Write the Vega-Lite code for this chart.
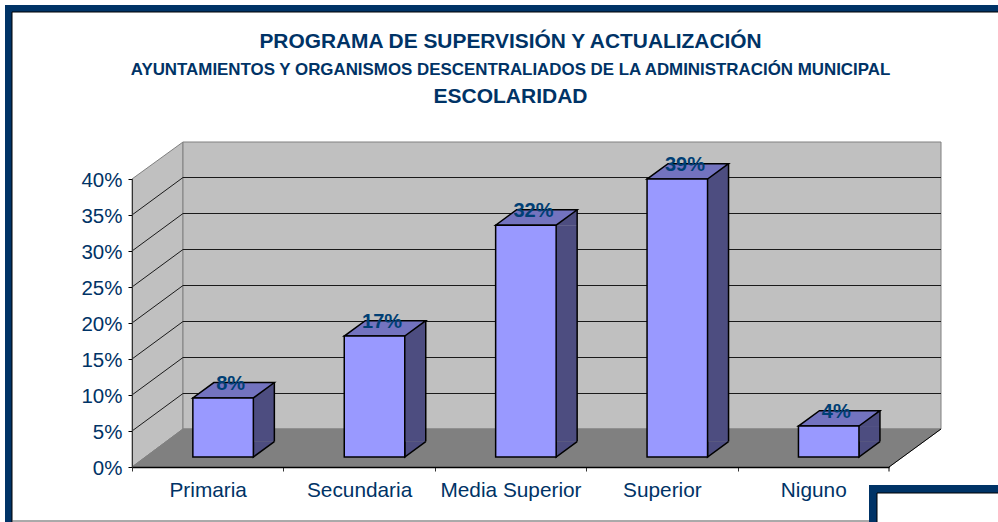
{
"$schema":"https://vega.github.io/schema/vega-lite/v6.json",
"width":757,"height":288,
"padding":{"left":132,"top":179,"right":109,"bottom":55},
"autosize":{"type":"none"},
"background":"#FFFFFF",
"view":{"stroke":null},
"title":{"text":"PROGRAMA DE SUPERVISIÓN Y ACTUALIZACIÓN","subtitle":"AYUNTAMIENTOS Y ORGANISMOS DESCENTRALIADOS DE LA ADMINISTRACIÓN MUNICIPAL","font":"Liberation Sans","fontSize":20.9,"fontWeight":"bold","color":"#003366","subtitleFont":"Liberation Sans","subtitleFontSize":16.9,"subtitleFontWeight":"bold","subtitleColor":"#003366","anchor":"middle","frame":"group","offset":0,"dy":73,"subtitlePadding":10},
"datasets":{
"bars":[{"categoria":"Primaria","pct":0.082},{"categoria":"Secundaria","pct":0.168},{"categoria":"Media Superior","pct":0.322},{"categoria":"Superior","pct":0.386},{"categoria":"Niguno","pct":0.043}],
"ticks":[{"tick":0.05},{"tick":0.10},{"tick":0.15},{"tick":0.20},{"tick":0.25},{"tick":0.30},{"tick":0.35}],
"anchor":[{"categoria":"Primaria","base":0}]
},
"data":{"name":"bars"},
"resolve":{"axis":{"x":"independent","y":"independent"}},
"layer":[
{"data":{"name":"anchor"},"mark":{"type":"point","shape":"M-202.7,-462 L790.3,-462 L790.3,-455 L-195.7,-455 L-195.7,55 L-202.7,55 Z","size":4,"filled":true,"fill":"#003366","stroke":null,"opacity":1},
"encoding":{"x":{"field":"categoria","type":"nominal","title":null,"scale":{"domain":["Primaria","Secundaria","Media Superior","Superior","Niguno"],"paddingInner":0.6,"paddingOuter":0.3},"axis":{"zindex":1,"labelAngle":0,"labelFont":"Liberation Sans","labelFontSize":20.8,"labelColor":"#003366","labelPadding":9,"labelOffset":75.7,"tickOffset":-75.7,"tickSize":4,"tickColor":"#333333","domainColor":"#000000","domainWidth":1.5,"grid":false}},
"y":{"field":"base","type":"quantitative","scale":{"domain":[0,0.4],"nice":false},"axis":{"zindex":1,"values":[0,0.05,0.1,0.15,0.2,0.25,0.3,0.35,0.4],"format":".0%","grid":false,"labelFont":"Liberation Sans","labelFontSize":20.5,"labelColor":"#003366","labelPadding":6,"labelOffset":1,"tickSize":4,"tickColor":"#000000","domainColor":"#333333","title":"ESCOLARIDAD","titleFont":"Liberation Sans","titleFontSize":21,"titleFontWeight":"bold","titleColor":"#003366","titleAngle":0,"titleAlign":"center","titleBaseline":"alphabetic","titleX":378,"titleY":-77}}}},
{"data":{"name":"anchor"},"mark":{"type":"point","shape":"M790.3,-455 L-195.7,-455 L-195.7,55","size":4,"filled":false,"stroke":"#000000","strokeWidth":1,"opacity":1},"encoding":{"x":{"field":"categoria","type":"nominal","axis":null},"y":{"field":"base","type":"quantitative","axis":null}}},
{"data":{"name":"anchor"},"mark":{"type":"point","shape":"M-195.7,54 L661.3,54","size":4,"filled":false,"stroke":"#555555","strokeWidth":1,"opacity":1},"encoding":{"x":{"field":"categoria","type":"nominal","axis":null},"y":{"field":"base","type":"quantitative","axis":null}}},
{"data":{"name":"anchor"},"mark":{"type":"point","shape":"M661.3,55 L661.3,18 L790.3,18 L790.3,26 L669.3,26 L669.3,55 Z","size":4,"filled":true,"fill":"#003366","stroke":null,"opacity":1},"encoding":{"x":{"field":"categoria","type":"nominal","axis":null},"y":{"field":"base","type":"quantitative","axis":null}}},
{"data":{"name":"anchor"},"mark":{"type":"point","shape":"M790.3,26 L669.3,26 L669.3,55","size":4,"filled":false,"stroke":"#000000","strokeWidth":1,"opacity":1},"encoding":{"x":{"field":"categoria","type":"nominal","axis":null},"y":{"field":"base","type":"quantitative","axis":null}}},
{"data":{"name":"anchor"},"mark":{"type":"point","shape":"M-75.7,-288 L-24.7,-325 L-24.7,-38 L-75.7,0 Z","size":4,"filled":true,"fill":"#C0C0C0","stroke":"#808080","strokeWidth":1,"opacity":1},"encoding":{"x":{"field":"categoria","type":"nominal","axis":null},"y":{"field":"base","type":"quantitative","axis":null}}},
{"data":{"name":"anchor"},"mark":{"type":"point","shape":"M-24.7,-325 L733.3,-325 L733.3,-38 L-24.7,-38 Z","size":4,"filled":true,"fill":"#C0C0C0","stroke":"#808080","strokeWidth":1,"opacity":1},"encoding":{"x":{"field":"categoria","type":"nominal","axis":null},"y":{"field":"base","type":"quantitative","axis":null}}},
{"data":{"name":"anchor"},"mark":{"type":"point","shape":"M-75.7,0 L-24.7,-38 L733.3,-38 L681.3,0 Z","size":4,"filled":true,"fill":"#808080","stroke":"#808080","strokeWidth":1,"opacity":1},"encoding":{"x":{"field":"categoria","type":"nominal","axis":null},"y":{"field":"base","type":"quantitative","axis":null}}},
{"data":{"name":"anchor"},"mark":{"type":"point","shape":"M733.3,-38 L681.3,0 L681.3,4.5","size":4,"filled":false,"stroke":"#000000","strokeWidth":1,"opacity":1},"encoding":{"x":{"field":"categoria","type":"nominal","axis":null},"y":{"field":"base","type":"quantitative","axis":null}}},
{"data":{"name":"ticks"},"mark":{"type":"point","shape":"M-75.7,0 L-24.7,-37.5 L733.3,-37.5","size":4,"filled":false,"stroke":"#1A1A1A","strokeWidth":1,"opacity":1},"encoding":{"x":{"datum":"Primaria","type":"nominal","axis":null},"y":{"field":"tick","type":"quantitative","axis":null}}},
{"mark":{"type":"bar","width":21,"xOffset":56.15,"yOffset":-10,"y2Offset":-25.4,"fill":"#4D4D80"},"encoding":{"x":{"field":"categoria","type":"nominal","axis":null},"y":{"field":"pct","type":"quantitative","axis":null},"y2":{"datum":0}}},
{"mark":{"type":"point","shape":"M45.65,-10 L66.65,-25.4 L66.65,-10 Z","size":4,"filled":true,"fill":"#4D4D80","stroke":null,"opacity":1},"encoding":{"x":{"field":"categoria","type":"nominal","axis":null},"y":{"field":"pct","type":"quantitative","axis":null}}},
{"mark":{"type":"point","shape":"M66.65,-25.4 L45.65,-10 L45.65,-25.4","size":4,"filled":true,"fill":"#4D4D80","stroke":"#000000","strokeWidth":1.5,"opacity":1},"encoding":{"x":{"field":"categoria","type":"nominal","axis":null},"y":{"datum":0,"type":"quantitative","axis":null}}},
{"mark":{"type":"rule","xOffset":66.65,"yOffset":-25.4,"y2Offset":-25.4,"stroke":"#000000","strokeWidth":1.5},"encoding":{"x":{"field":"categoria","type":"nominal","axis":null},"y":{"field":"pct","type":"quantitative","axis":null},"y2":{"datum":0}}},
{"mark":{"type":"point","shape":"M-14.85,-10 L45.65,-10 L66.65,-25.4 L6.15,-25.4 Z","size":4,"filled":true,"fill":"#7373BF","stroke":"#000000","strokeWidth":1.5,"opacity":1},"encoding":{"x":{"field":"categoria","type":"nominal","axis":null},"y":{"field":"pct","type":"quantitative","axis":null}}},
{"mark":{"type":"bar","width":60.5,"xOffset":15.4,"yOffset":-10,"y2Offset":-10,"fill":"#9999FF","stroke":"#000000","strokeWidth":1.5},"encoding":{"x":{"field":"categoria","type":"nominal","axis":null},"y":{"field":"pct","type":"quantitative","axis":null},"y2":{"datum":0}}},
{"mark":{"type":"text","font":"Liberation Sans","fontSize":20,"fontWeight":"bold","color":"#003F75","baseline":"alphabetic","align":"center","xOffset":23,"yOffset":-18},"encoding":{"x":{"field":"categoria","type":"nominal","axis":null},"y":{"field":"pct","type":"quantitative","axis":null},"text":{"field":"pct","type":"quantitative","format":".0%"}}}
]
}
